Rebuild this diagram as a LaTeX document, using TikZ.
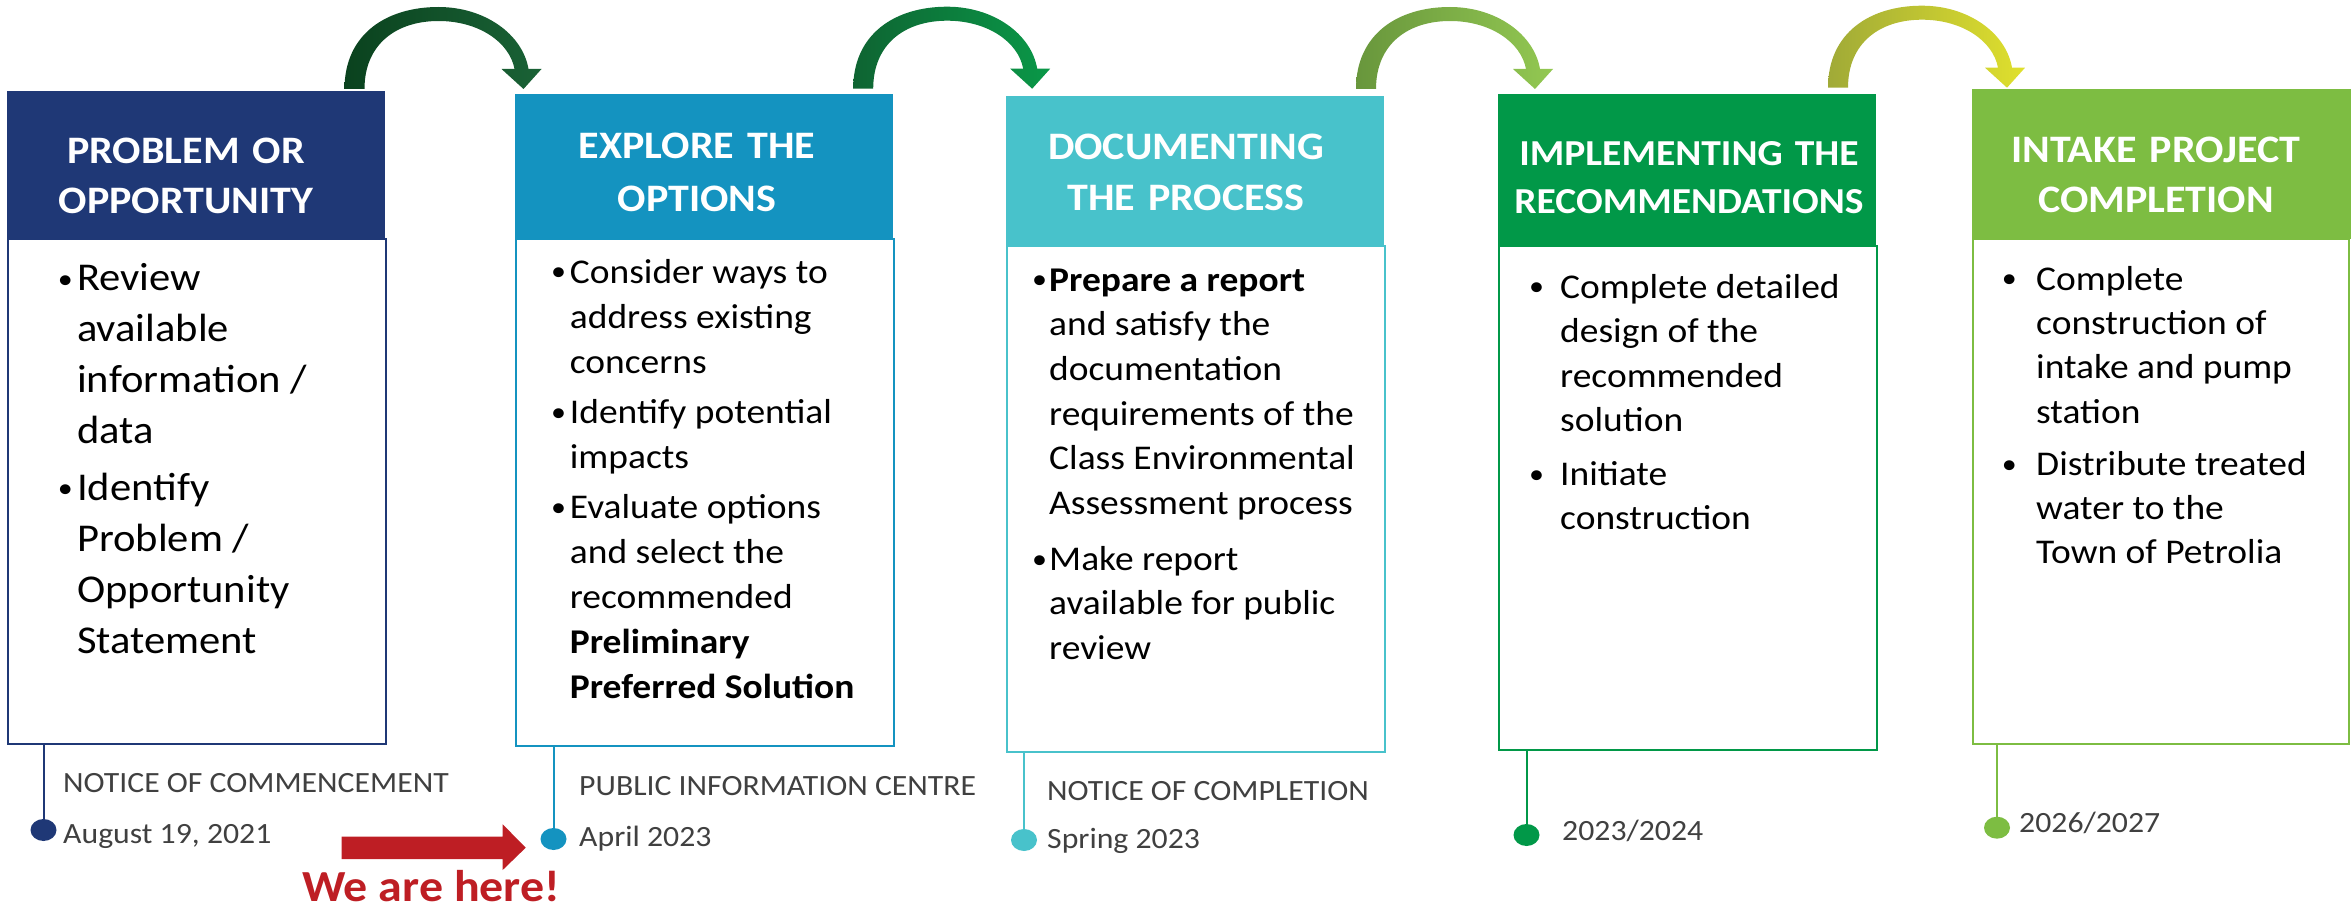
\documentclass[tikz,border=0pt]{standalone}
\usepackage{fontspec}
\setmainfont{Carlito}[FakeStretch=1.08]
\usetikzlibrary{shapes.geometric}
\definecolor{c1}{RGB}{31,56,118}
\definecolor{c2}{RGB}{20,147,192}
\definecolor{c3}{RGB}{72,194,203}
\definecolor{c4}{RGB}{1,152,72}
\definecolor{c5}{RGB}{125,189,66}
\definecolor{lbl}{RGB}{64,64,64}
\definecolor{redarr}{RGB}{190,30,36}
\definecolor{a1l}{RGB}{10,66,30}\definecolor{a1r}{RGB}{26,98,54}
\definecolor{a2l}{RGB}{14,100,50}\definecolor{a2r}{RGB}{10,152,72}
\definecolor{a3l}{RGB}{104,150,60}\definecolor{a3r}{RGB}{147,200,82}
\definecolor{a4l}{RGB}{160,170,55}\definecolor{a4r}{RGB}{224,224,45}
\begin{document}
\begin{tikzpicture}[x=1pt,y=-1pt,
  hdrbox/.style={rectangle, anchor=north west, inner sep=0, outer sep=0, draw=none, minimum width=378pt},
  bodybox/.style={rectangle, anchor=north west, inner sep=0, outer sep=0, fill=white, line width=2.5pt, minimum width=378pt},
  hdrtext/.style={anchor=north, inner sep=0, text width=372pt, align=center, text=white},
  bodytext/.style={anchor=north west, inner sep=0, align=left, text=black},
  bul/.style={anchor=base west, inner sep=0, text=black},
  lab/.style={anchor=base west, inner sep=0, text=lbl, font=\fontsize{29.4}{36}\selectfont},
  dot/.style={ellipse, inner sep=0, minimum width=26pt, minimum height=22pt, draw=none},
  stem/.style={line width=2pt},
  pics/bendarrow/.style 2 args={code={
    \shade[left color=#1, right color=#2] (0,0) .. controls (0,-55) and (42,-82) .. (94,-82)
      .. controls (140,-82) and (178,-55) .. (184,-20) -- (197,-20) -- (179,0) -- (157,-20) -- (170,-20)
      .. controls (165,-47) and (134,-68) .. (94,-68) .. controls (52,-68) and (20,-45) .. (20,0) -- cycle;
  }}
]
\useasboundingbox (0,0) rectangle (2351,909);

% bodies
\node[bodybox, draw=c1, minimum height=505pt] (b1) at (8,239) {};
\node[bodybox, draw=c2, minimum height=507pt] (b2) at (516,239) {};
\node[bodybox, draw=c3, minimum height=506pt] (b3) at (1007,246) {};
\node[bodybox, draw=c4, minimum height=504pt] (b4) at (1499,246) {};
\node[bodybox, draw=c5, minimum height=505pt, minimum width=376pt] (b5) at (1973,239) {};

% headers
\node[hdrbox, fill=c1, minimum height=148pt] (h1) at (7,91) {};
\node[hdrbox, fill=c2, minimum height=145pt] (h2) at (515,94) {};
\node[hdrbox, fill=c3, minimum height=150pt] (h3) at (1006,96) {};
\node[hdrbox, fill=c4, minimum height=152pt] (h4) at (1498,94) {};
\node[hdrbox, fill=c5, minimum height=150pt, minimum width=379pt] (h5) at (1972,89) {};

\node[hdrtext, font=\bfseries\fontsize{38.9}{50}\selectfont] (ht1) at (186,128) {\strut PROBLEM OR\\OPPORTUNITY};
\node[hdrtext, font=\bfseries\fontsize{38.9}{53}\selectfont] (ht2) at (697,120.9) {\strut EXPLORE THE\\OPTIONS};
\node[hdrtext, font=\bfseries\fontsize{38.9}{51.5}\selectfont] (ht3) at (1186,122.95) {\strut DOCUMENTING\\THE PROCESS};
\node[hdrtext, font=\bfseries\fontsize{36.6}{48}\selectfont] (ht4) at (1689,131.4) {\strut IMPLEMENTING THE\\RECOMMENDATIONS};
\node[hdrtext, font=\bfseries\fontsize{38.9}{50}\selectfont] (ht5) at (2156,127) {\strut INTAKE PROJECT\\COMPLETION};

% body texts
\node[bodytext, font=\fontsize{39.4}{51}\selectfont] (t1) at (77,255)
 {\strut Review\\available\\information /\\data\\[5.6pt]Identify\\Problem /\\Opportunity\\Statement};
\node[bodytext, font=\fontsize{34.7}{45}\selectfont] (t2) at (569.7,251.5)
 {\strut Consider ways to\\address existing\\concerns\\[5pt]Identify potential\\impacts\\[5pt]Evaluate options\\and select the\\recommended\\\textbf{Preliminary}\\\textbf{Preferred Solution}};
\node[bodytext, font=\fontsize{34.7}{44.6}\selectfont] (t3) at (1049,259.78)
 {\strut\textbf{Prepare a report}\\and satisfy the\\documentation\\requirements of the\\Class Environmental\\Assessment process\\[11.4pt]Make report\\available for public\\review};
\node[bodytext, font=\fontsize{34.7}{44.5}\selectfont] (t4) at (1560,266.85)
 {\strut Complete detailed\\design of the\\recommended\\solution\\[9pt]Initiate\\construction};
\node[bodytext, font=\fontsize{34.7}{44.3}\selectfont] (t5) at (2036,258.99)
 {\strut Complete\\construction of\\intake and pump\\station\\[7.8pt]Distribute treated\\water to the\\Town of Petrolia};

% bullets
\begin{scope}[every node/.append style={bul, font=\fontsize{27.8}{34}\selectfont}]
\node (u11) at (57.6,289) {\textbullet};
\node (u12) at (57.6,497) {\textbullet};
\node (u21) at (551,281) {\textbullet};
\node (u22) at (551,421) {\textbullet};
\node (u23) at (551,516) {\textbullet};
\node (u31) at (1032,289) {\textbullet};
\node (u32) at (1032,568) {\textbullet};
\node (u41) at (1529,296) {\textbullet};
\node (u42) at (1529,483) {\textbullet};
\node (u51) at (2001.7,288) {\textbullet};
\node (u52) at (2001.7,473) {\textbullet};
\end{scope}

% curved arrows between headers
\pic at ([xshift=-40.5pt,yshift=2pt]h1.north east) {bendarrow={a1l}{a1r}};
\pic at ([xshift=-39.8pt,yshift=5.3pt]h2.north east) {bendarrow={a2l}{a2r}};
\pic at ([xshift=-28pt,yshift=7pt]h3.north east) {bendarrow={a3l}{a3r}};
\pic at ([xshift=-48pt,yshift=6.3pt]h4.north east) {bendarrow={a4l}{a4r}};

% milestone stems and dots
\coordinate (p1) at (43.5,830);
\coordinate (p2) at (553.5,839);
\coordinate (p3) at (1024,840);
\coordinate (p4) at (1526.5,835);
\coordinate (p5) at (1997,827.7);
\draw[stem, c1] (b1.south -| p1) -- (p1);
\draw[stem, c2] (b2.south -| p2) -- (p2);
\draw[stem, c3] (b3.south -| p3) -- (p3);
\draw[stem, c4] (b4.south -| p4) -- (p4);
\draw[stem, c5] (b5.south -| p5) -- (p5);
\node[dot, fill=c1] (d1) at (p1) {};
\node[dot, fill=c2] (d2) at (p2) {};
\node[dot, fill=c3] (d3) at (p3) {};
\node[dot, fill=c4] (d4) at (p4) {};
\node[dot, fill=c5] (d5) at (p5) {};

% labels
\node[lab] (l1a) at (63,792) {NOTICE OF COMMENCEMENT};
\node[lab] (l1b) at (63,843) {August 19, 2021};
\node[lab] (l2a) at (579,795.7) {PUBLIC INFORMATION CENTRE};
\node[lab] (l2b) at (579,846.7) {April 2023};
\node[lab] (l3a) at (1047,800) {NOTICE OF COMPLETION};
\node[lab] (l3b) at (1047,848) {Spring 2023};
\node[lab] (l4) at (1562,840) {2023/2024};
\node[lab] (l5) at (2019,832.7) {2026/2027};

% we are here
\fill[redarr] (341.7,836.7) -- (502.7,836.7) -- (502.7,824.3) -- (525.7,847.7) -- (502.7,870) -- (502.7,859) -- (341.7,859) -- cycle;
\node[anchor=base west, inner sep=0, text depth=0pt, text=redarr, font=\bfseries\fontsize{44.4}{50}\selectfont] (here) at (302,901.7) {We are here!};
\end{tikzpicture}
\end{document}
